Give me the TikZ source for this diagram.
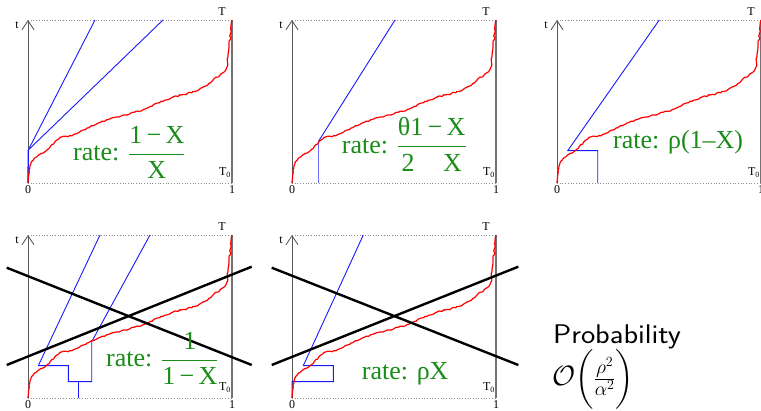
\documentclass[tikz,border=0pt]{standalone}
\usepackage{fix-cm}
\usepackage{amsmath}
\usepackage{fontspec}
\setmainfont{Liberation Serif}
\usetikzlibrary{arrows.meta,decorations.pathmorphing}
\definecolor{rategreen}{RGB}{25,140,25}
\definecolor{lineblue}{RGB}{25,25,255}
\tikzset{
  axisline/.style={draw=black!65, line width=0.9pt, -{Straight Barb[length=9pt,width=12pt,line width=0.9pt]}},
  edgeline/.style={draw=black!55, line width=1.3pt},
  dotline/.style={draw=black!45, dotted, line width=0.7pt},
  bluepath/.style={draw=lineblue, line width=0.9pt},
  redpath/.style={draw=red, line width=1.2pt, line join=round, decorate, decoration={random steps, segment length=2.2pt, amplitude=0.8pt}},
  crossline/.style={draw=black, line width=2.4pt},
  lbl/.style={font=\fontsize{12}{12}\selectfont, inner sep=0pt},
  ratelbl/.style={text=rategreen, font=\fontsize{26}{28}\selectfont, inner sep=0pt, anchor=base west},
  problbl/.style={font=\sffamily\fontsize{27}{30}\selectfont, inner sep=0pt, anchor=base west}
}
\newcommand\drawframe[3]{% #1 prefix, #2 left x, #3 bottom y
  \coordinate (#1-o) at (#2,#3);
  \coordinate (#1-top) at (#2,#3-163);
  \coordinate (#1-br) at (#2+204,#3);
  \coordinate (#1-tr) at (#2+204,#3-163);
  \draw[dotline] (#1-top) -- (#1-tr);
  \draw[dotline] (#1-o) -- (#1-br);
  \draw[edgeline] (#1-br) -- (#1-tr);
  \draw[axisline] (#1-o) -- (#1-top);
  \node[lbl] (#1-t) at (#2-11,#3-158) {t};
  \node[lbl] (#1-T) at (#2+194,#3-171) {T};
  \node[lbl] (#1-T0) at (#2+197,#3-10) {T\textsubscript{0}};
  \node[lbl] (#1-0) at (#2,#3+7) {0};
  \node[lbl] (#1-1) at (#2+204,#3+7) {1};
}
\newcommand\drawred[2]{% #1 left x, #2 bottom y
  \begin{scope}[shift={(#1,#2)}, x=204pt, y=163pt]
    \pgfmathsetseed{11}
    \draw[redpath] (0,0) -- (0.002,0.04) -- (0.005,0.08) -- (0.013,0.115) -- (0.025,0.14) -- (0.045,0.163) -- (0.074,0.184) -- (0.095,0.205) -- (0.108,0.222) -- (0.13,0.25) -- (0.157,0.28) -- (0.185,0.287) -- (0.216,0.29) -- (0.25,0.31) -- (0.289,0.337) -- (0.32,0.352) -- (0.353,0.372) -- (0.39,0.388) -- (0.436,0.405) -- (0.5,0.425) -- (0.564,0.45) -- (0.6,0.47) -- (0.632,0.49) -- (0.67,0.508) -- (0.711,0.528) -- (0.78,0.548) -- (0.84,0.575) -- (0.88,0.6) -- (0.907,0.632) -- (0.94,0.66) -- (0.965,0.685) -- (0.975,0.71) -- (0.98,0.773) -- (0.985,0.83) -- (0.99,0.877) -- (0.994,0.94) -- (1,1);
  \end{scope}
}
\begin{document}
\begin{tikzpicture}[x=1pt,y=-1pt]
\path[fill=white,use as bounding box] (0,0) rectangle (761,411);
% frames
\drawframe{p1}{28}{183}
\drawframe{p2}{292}{183}
\drawframe{p3}{557}{183}
\drawframe{p4}{28}{398}
\drawframe{p5}{292}{398}
% blue paths
\draw[bluepath, line width=1.3pt] (p1-o) -- (28.3,150);
\draw[bluepath] (28.3,150) -- (95,20);
\draw[bluepath] (28.3,150) -- (163,20);
\draw[bluepath, draw=lineblue!65, line width=1.4pt] (318.7,183) -- (318.7,141);
\draw[bluepath] (318.7,141) -- (395,20);
\draw[bluepath] (597.7,183) -- (597.7,150.7) -- (567.7,150.7) -- (659.3,20);
\draw[bluepath] (38.3,365.7) -- (68.3,365.7) -- (68.3,381.7) -- (91.7,381.7) -- (91.7,341.7) -- (150,235);
\draw[bluepath] (38.3,365.7) -- (100,235);
\draw[bluepath] (78.3,381.7) -- (78.3,398);
\draw[bluepath] (p5-o) -- (292,381.7) -- (333.3,381.7) -- (333.3,365.7) -- (303.3,365.7) -- (363.3,235);
% red sample paths
\drawred{28}{183}
\drawred{292}{183}
\drawred{557}{183}
\drawred{28}{398}
\drawred{292}{398}
% crosses
\coordinate (c4a) at (6.7,267.7);
\coordinate (c4b) at (251.7,365);
\coordinate (c4c) at (6.7,365);
\coordinate (c4d) at (251.7,266.7);
\draw[crossline] (c4a) -- (c4b);
\draw[crossline] (c4c) -- (c4d);
\coordinate (c5a) at (271.7,267.7);
\coordinate (c5b) at (518.3,365);
\coordinate (c5c) at (271.7,365);
\coordinate (c5d) at (518.3,266.7);
\draw[crossline] (c5a) -- (c5b);
\draw[crossline] (c5c) -- (c5d);
% rate labels
\node[ratelbl] (r1) at (73,161) {rate: $\displaystyle\frac{\hbox{1\,−\,X}}{\hbox{X}}$};
\node[ratelbl] (r2) at (341.7,153.3) {rate: $\displaystyle\frac{\hbox{θ1\,−\,X}}{\hbox{2\hspace{1.1em}X}}$};
\node[ratelbl] (r3) at (613,148.3) {rate: ρ(1–X)};
\node[ratelbl] (r4) at (106,366.7) {rate: $\displaystyle\frac{\hbox{1}}{\hbox{1\,−\,X}}$};
\node[ratelbl] (r5) at (361.7,379.3) {rate: ρX};
% probability
\node[problbl] (prob) at (553,343.3) {\scalebox{1.12}[1]{Probability}};
\node[font=\fontsize{28}{30}\selectfont, inner sep=0pt, anchor=west] (order) at (552,379) {$\mathcal{O}\Bigl(\frac{\rho^2}{\alpha^2}\Bigr)$};
\end{tikzpicture}
\end{document}
